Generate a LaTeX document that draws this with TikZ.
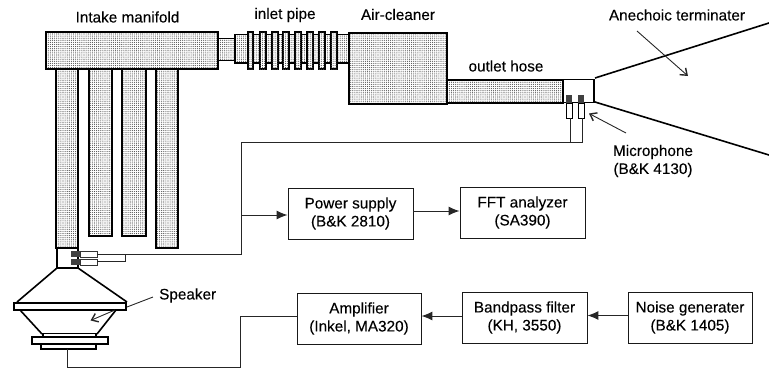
\documentclass[tikz,border=0pt]{standalone}
\usepackage{fontspec}
\setmainfont[FakeBold=0.12]{Liberation Sans}
\usetikzlibrary{arrows.meta,patterns.meta}
\tikzset{
  x=1pt,y=-1pt,
  lab/.style={font=\fontsize{15.3}{18}\selectfont,align=center,inner sep=0pt,text=black},
  blockbox/.style={draw=black!90,line width=.9pt,fill=white,minimum width=#1,minimum height=51pt,inner sep=0pt,align=center,font=\fontsize{15.3}{18}\selectfont,text=black},
  blockbox/.default=125pt,
  halftone/.style={pattern={Dots[distance=2.1pt,radius=.56pt]},pattern color=black!70},
  duct/.style={draw=black,line width=2pt,line join=miter},
  thinduct/.style={draw=black,line width=1.2pt},
  wire/.style={draw=black!85,line width=.8pt},
  sig/.style={draw=black!85,line width=1pt,-{Latex[length=11pt,width=9pt]}},
  pointer/.style={draw=black!85,line width=.9pt,-{Straight Barb[length=6pt,width=9pt,line width=1.4pt]}},
  hornline/.style={draw=black,line width=1.6pt},
}
\begin{document}
\begin{tikzpicture}
\useasboundingbox (0,0) rectangle (769,370);
% intake manifold and runners
\foreach \xa/\xb/\yb in {56/78/248,89/112/236,122/146/236,156/178/248}{
  \path[duct,fill=white] (\xa,69) rectangle (\xb,\yb);
  \path[duct,halftone] (\xa,69) rectangle (\xb,\yb);
}
\path[duct,fill=white] (46,32) rectangle (218,69);
\path[duct,halftone] (46,32) rectangle (218,69);
% inlet pipe
\path[thinduct,line width=1.6pt,halftone] (218,38.5) rectangle (235,60.5);
\path[thinduct,halftone] (235,34.5) rectangle (349,63);
\foreach \xa/\xb in {248/253,260/266,272/278,283/289,295/301,307/313,319/325,331/337}{
  \path[duct,line width=1.5pt,fill=white] (\xa,32) rectangle (\xb,69);
  \path[halftone] (\xa,32) rectangle (\xb,69);
}
% air cleaner, hose, tube
\path[duct,halftone] (349,33) rectangle (447,104);
\path[duct,halftone] (447,80) rectangle (563,103);
\path[thinduct] (563,79.5) -- (594,79.5) -- (594,102.5) -- (563,102.5);
% microphones on the outlet tube
\foreach \xa in {566,578}{
  \path[draw=black,line width=.8pt,fill=white] (\xa,103) rectangle (\xa+6,118);
  \path[fill=black!75] (\xa,94.5) rectangle (\xa+6,103);
}
% horn
\coordinate (hornA) at (595,78);
\coordinate (hornB) at (769,23);
\coordinate (hornC) at (595,102);
\coordinate (hornD) at (769,155);
\draw[hornline] (hornA) -- (hornB);
\draw[hornline] (hornC) -- (hornD);
% speaker
\path[thinduct] (57,248) -- (57,268);
\path[thinduct] (78,248) -- (78,268);
\path[thinduct,line width=1.6pt] (57,268) -- (78,268);
\path[thinduct,line width=1.6pt] (57,268) -- (17,302);
\path[thinduct,line width=1.6pt] (78,268) -- (127,302);
\path[duct,fill=white] (13.5,303) rectangle (126,310);
\path[thinduct,line width=1.6pt] (20,310) -- (42,334);
\path[thinduct,line width=1.6pt] (116,310) -- (97,334);
\path[thinduct,fill=white] (43,333.5) rectangle (96,337);
\path[duct,fill=white] (31.5,337) rectangle (107.5,344);
\path[duct,fill=white] (41,344) rectangle (96,349);
% speaker-end microphones
\foreach \ya in {251,259}{
  \path[fill=black!75] (71,\ya) rectangle (80,\ya+6);
  \path[draw=black!80,line width=.7pt,fill=white] (80,\ya) rectangle (97,\ya+6);
}
% blocks
\node[blockbox] (power) at (350.5,213.5) {Power supply\\(B\&K 2810)};
\node[blockbox] (fft) at (522.5,212.5) {FFT analyzer\\(SA390)};
\node[blockbox=124pt] (amp) at (359,318.5) {Amplifier\\(Inkel, MA320)};
\node[blockbox] (band) at (524.5,317.5) {Bandpass filter\\(KH, 3550)};
\node[blockbox=124pt] (noise) at (690,317.5) {Noise generater\\(B\&K 1405)};
% signal arrows
\draw[sig] (power.east |- 0,211) -- (fft.west |- 0,211);
\draw[sig] (noise.west |- 0,315.5) -- (band.east |- 0,315.5);
\draw[sig] (band.west |- 0,316) -- (amp.east |- 0,316);
% wiring
\coordinate (micA) at (570,118);
\coordinate (micB) at (582,118);
\coordinate (corner) at (241,142);
\coordinate (tee) at (241,215);
\coordinate (spkmicA) at (97,254);
\coordinate (spkmicB) at (97,261);
\coordinate (spkout) at (67,349);
\draw[wire] (micA) -- (570,142);
\draw[wire] (micB) -- (582,142) -- (corner) -- (241,254) -- (spkmicA);
\draw[wire] (spkmicB) -- (125,261) -- (125,254);
\draw[sig] (tee) -- (power.west |- tee);
\draw[wire] (amp.west |- 0,316) -- (240,316) -- (240,367) -- (67,367) -- (spkout);
% labels
\node[lab] (lmanifold) at (127.5,17) {Intake manifold};
\node[lab] (lpipe) at (285,15) {inlet pipe};
\node[lab] (lcleaner) at (398,14.5) {Air-cleaner};
\node[lab] (lhose) at (506,66) {outlet hose};
\node[lab] (lanech) at (677,15) {Anechoic terminater};
\node[lab] (lmic) at (653,161) {Microphone\\(B\&K 4130)};
\node[lab,anchor=west] (lspeaker) at (159,295.5) {Speaker};
% pointers
\coordinate (aA) at (637,31);
\coordinate (aB) at (688,76);
\coordinate (mA) at (626,133);
\coordinate (mB) at (589,113.5);
\coordinate (sA) at (153,297);
\coordinate (sB) at (127,307);
\coordinate (sC) at (115,310);
\coordinate (sD) at (90.5,320.5);
\draw[pointer] (aA) -- (aB);
\draw[pointer] (mA) -- (mB);
\draw[draw=black!85,line width=.9pt] (sA) -- (sB);
\draw[pointer] (sC) -- (sD);
\end{tikzpicture}
\end{document}
